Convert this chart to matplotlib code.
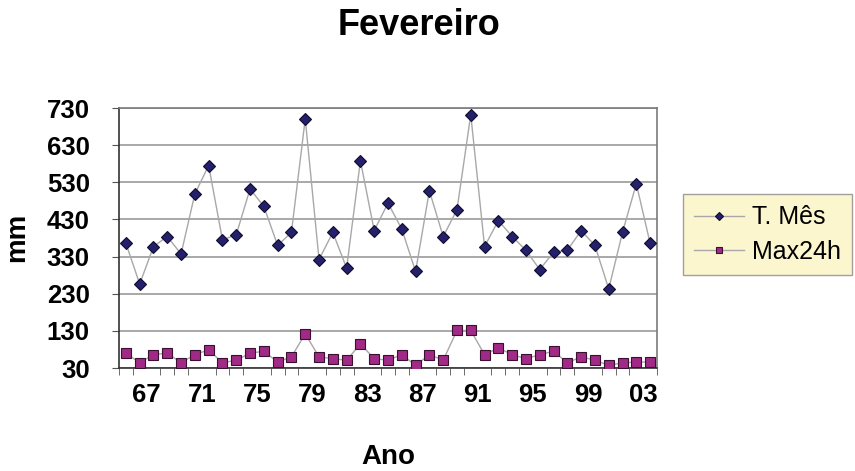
import matplotlib
matplotlib.use("Agg")
import matplotlib.pyplot as plt
from matplotlib.ticker import FixedLocator

years = list(range(1965, 2004))
t_mes = [366, 256, 357, 384, 337, 499, 575, 375, 389, 512,
         465, 360, 395, 701, 322, 395, 299, 588, 400, 474,
         404, 290, 507, 384, 456, 712, 357, 427, 384, 347,
         295, 342, 347, 400, 360, 243, 395, 526, 366]
max24h = [70, 44, 66, 70, 44, 66, 79, 44, 51, 70,
          75, 46, 60, 122, 60, 55, 51, 95, 55, 51,
          66, 37, 66, 51, 131, 131, 66, 84, 66, 55,
          66, 75, 44, 60, 51, 37, 44, 46, 46]
xtick_years = list(range(1967, 2004, 4))
xtick_labels = ["%02d" % (y % 100) for y in xtick_years]
yticks = [30, 130, 230, 330, 430, 530, 630, 730]

plt.rcParams['font.family'] = ['Liberation Sans', 'DejaVu Sans']

fig = plt.figure(figsize=(8.55, 4.71), dpi=100)
ax = fig.add_axes([119/855, 1-368/471, (657-119)/855, (368-108)/471])

ax.plot(years, t_mes, color='#a8a8a8', lw=1.0, marker='D', ms=6.2,
        markerfacecolor='#24206a', markeredgecolor='#0e0c30', mew=0.8,
        label='T. Mês', zorder=3)
ax.plot(years, max24h, color='#a8a8a8', lw=1.0, marker='s', ms=6.8,
        markerfacecolor='#a02a85', markeredgecolor='#3a1030', mew=0.8,
        label='Max24h', zorder=3)

ax.set_xlim(1964.5, 2003.5)
ax.set_ylim(30, 730)
ax.set_yticks(yticks)
ax.set_yticklabels([str(v) for v in yticks], fontsize=18.5, fontweight='bold')
# labels sit at the category boundaries, as in the original chart
ax.set_xticks([y - 0.5 for y in xtick_years])
ax.set_xticklabels(xtick_labels, fontsize=18.5, fontweight='bold')
ax.tick_params(axis='x', which='major', length=0, pad=11)
ax.xaxis.set_minor_locator(FixedLocator([y + 0.5 for y in range(1964, 2004)]))
ax.tick_params(axis='x', which='minor', length=5, color='#555555', direction='out')
ax.tick_params(axis='y', length=5, color='#555555', pad=16)

ax.grid(axis='y', color='#a8a8a8', lw=1.4)
ax.set_axisbelow(True)
for side in ['top', 'right']:
    ax.spines[side].set_color('#7a7a7a')
    ax.spines[side].set_linewidth(1.2)
for side in ['left', 'bottom']:
    ax.spines[side].set_color('#333333')
    ax.spines[side].set_linewidth(1.2)

fig.text(388/855, 1-464/471, 'Ano', ha='center', va='baseline',
         fontsize=20, fontweight='bold')
fig.text(17/855, 1-237/471, 'mm', ha='center', va='center', rotation=90,
         fontsize=20, fontweight='bold')

fig.text(419/855, 1-35/471, 'Fevereiro', ha='center', va='baseline',
         fontsize=26, fontweight='bold')

leg = fig.legend(loc='upper left', bbox_to_anchor=(683/855, 1-194/471),
                 fontsize=18, frameon=True, fancybox=False,
                 handlelength=2.0, markerscale=0.7, borderpad=0.45,
                 labelspacing=0.42, handletextpad=0.3, borderaxespad=0)
leg.get_frame().set_facecolor('#faf4c2')
leg.get_frame().set_edgecolor('#8a8a8a')
leg.get_frame().set_linewidth(1.0)

fig.savefig('out.png', dpi=100)
